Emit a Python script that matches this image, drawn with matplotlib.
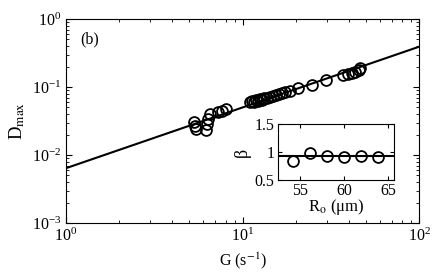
import matplotlib
matplotlib.use("Agg")
import matplotlib.pyplot as plt

plt.rcParams['font.family'] = ['Liberation Serif', 'DejaVu Serif']
plt.rcParams['mathtext.fontset'] = 'stix'

# main panel: shear rate G (1/s) vs max deformation
G = [5.31, 5.38, 5.45,
     6.21, 6.29, 6.38, 6.54,
     7.26, 7.66, 8.06,
     11.0, 11.3, 11.6, 11.9, 12.2, 12.6, 12.9, 13.2, 13.8, 14.3, 14.9, 15.5, 16.1, 16.7, 17.4,
     18.6, 20.6, 24.8, 29.7,
     37.1, 39.6, 41.7, 43.4, 45.7, 46.3]
D = [0.0306, 0.0267, 0.0241,
     0.0233, 0.0286, 0.0338, 0.0401,
     0.0429, 0.0444, 0.0475,
     0.060, 0.062, 0.061, 0.064, 0.063, 0.066, 0.065, 0.068, 0.070, 0.072, 0.074, 0.077, 0.079, 0.082, 0.085,
     0.087, 0.097, 0.107, 0.127,
     0.150, 0.155, 0.161, 0.166, 0.178, 0.190]

# power-law fit line
G_fit = [1, 100]
D_fit = [0.0064, 0.392]

# inset: exponent beta vs radius
R0 = [54.2, 56.2, 58.1, 60.0, 61.9, 63.8]
beta = [0.84, 0.99, 0.92, 0.91, 0.92, 0.91]
beta_mean = 0.92

fig = plt.figure(figsize=(4.36, 2.76), dpi=100)
ax = fig.add_axes([0.1514, 0.192, 0.8103, 0.7392])
ax.plot(G_fit, D_fit, '-', color='k', lw=1.5)
ax.plot(G, D, 'o', mfc='none', mec='k', ms=7.8, mew=1.3)
ax.set_xscale('log')
ax.set_yscale('log')
ax.set_xlim(1, 100)
ax.set_ylim(1e-3, 1)
ax.tick_params(which='both', direction='in', top=True, right=True, labelsize=11.5)
ax.tick_params(which='major', length=4)
ax.tick_params(which='minor', length=2)
ax.set_xlabel(r'G (s$^{-1}$)', fontsize=11.5, labelpad=4)
ax.set_ylabel(r'D$_{\rm max}$', fontsize=13.5, labelpad=3)
ax.text(0.04, 0.88, '(b)', transform=ax.transAxes, fontsize=11.5)

ins = fig.add_axes([0.6365, 0.3478, 0.2679, 0.2029])
ins.axhline(beta_mean, color='k', lw=1.5)
ins.plot(R0, beta, 'o', mfc='none', mec='k', ms=7.8, mew=1.3)
ins.set_xlim(52.5, 65.7)
ins.set_ylim(0.5, 1.5)
ins.set_xticks([55, 60, 65])
ins.set_yticks([0.5, 1, 1.5])
ins.set_yticklabels(['0.5', '1', '1.5'])
ins.tick_params(direction='in', top=True, right=True, labelsize=11.5, length=3, pad=2)
ins.set_xlabel('R$_{\\rm o}$ (\u03bcm)', fontsize=12, labelpad=-1)
ins.set_ylabel('\u03b2', fontsize=13, labelpad=3)

fig.savefig('out.png', dpi=100)
